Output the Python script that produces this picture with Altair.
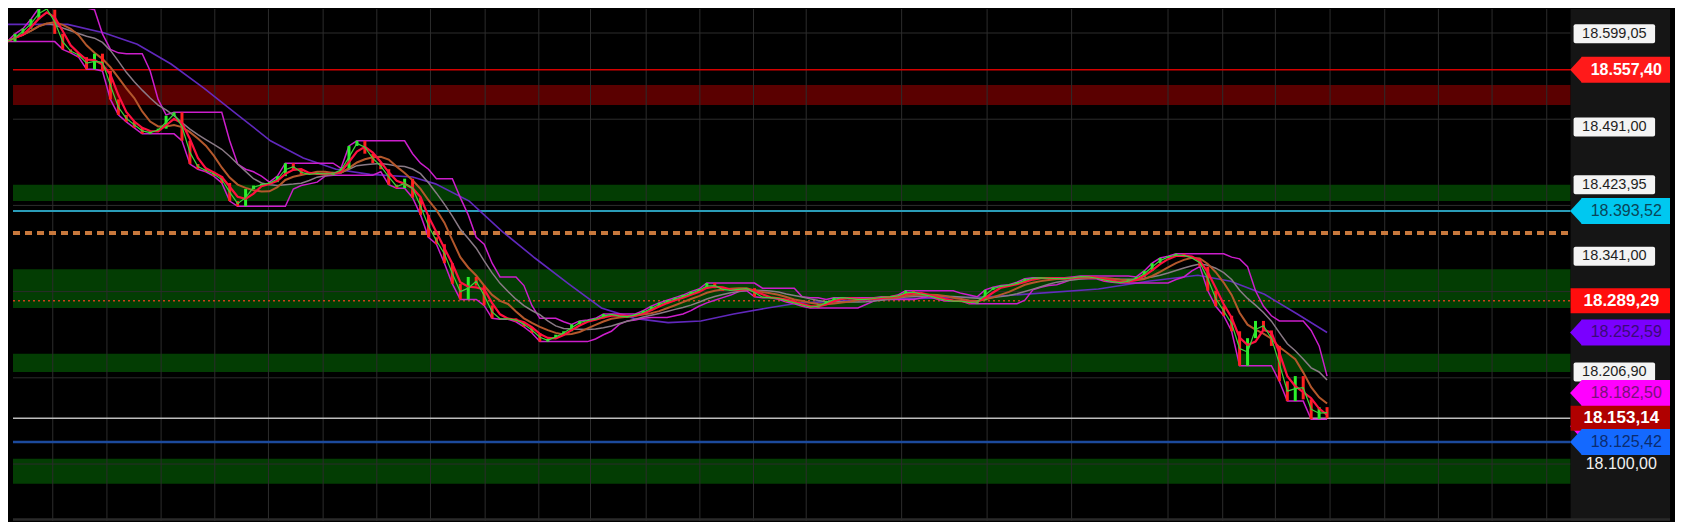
import altair as alt
import pandas as pd

# ---------------- data ----------------
closes = [
    18590, 18599, 18605, 18616, 18629, 18627, 18599, 18581, 18577, 18572,
    18558, 18576, 18556, 18523, 18505, 18497, 18490, 18483, 18486, 18489,
    18504, 18508, 18475, 18448, 18442, 18439, 18434, 18426, 18405, 18399,
    18419, 18423, 18425, 18427, 18434, 18449, 18441, 18436, 18436, 18438,
    18435, 18439, 18443, 18469, 18475, 18460, 18449, 18442, 18424, 18420,
    18431, 18409, 18389, 18363, 18355, 18333, 18309, 18291, 18317, 18307,
    18284, 18269, 18268, 18269, 18265, 18259, 18252, 18242, 18245, 18250,
    18254, 18262, 18266, 18267, 18269, 18274, 18273, 18270, 18272, 18274,
    18278, 18283, 18287, 18290, 18293, 18296, 18300, 18303, 18310, 18304,
    18301, 18302, 18303, 18304, 18294, 18293, 18293, 18291, 18288, 18286,
    18283, 18281, 18285, 18289, 18293, 18293, 18291, 18291, 18291, 18293,
    18294, 18294, 18296, 18301, 18298, 18296, 18294, 18291, 18289, 18289,
    18289, 18286, 18290, 18302, 18305, 18307, 18308, 18311, 18315, 18316,
    18316, 18315, 18315, 18315, 18317, 18318, 18316, 18315, 18312, 18311,
    18310, 18314, 18317, 18324, 18333, 18339, 18341, 18344, 18340, 18338,
    18329, 18301, 18283, 18272, 18254, 18214, 18246, 18266, 18255, 18237,
    18196, 18173, 18202, 18175, 18152, 18166, 18153.14,
]
bar_t = [2 + 8 * i for i in range(len(closes))]

long_ma_t = [0, 63, 100, 133, 167, 200, 233, 267, 300, 333, 367, 410, 433, 467,
             500, 533, 567, 600, 633, 667, 700, 733, 767, 800, 880, 990, 1100,
             1150, 1200, 1233, 1267, 1300, 1330]
long_ma_v = [18610, 18610, 18600, 18587, 18564, 18536, 18506, 18475, 18455, 18442,
             18436, 18433, 18425, 18405, 18370, 18339, 18309, 18281, 18269, 18264,
             18266, 18274, 18281, 18287, 18291, 18294, 18303, 18312, 18319, 18312,
             18297, 18274, 18252.59]

grid_x = [48, 102.5, 157, 211, 265, 320, 374, 428, 483, 537, 589, 645, 699, 753,
          806, 902, 988, 1073, 1170, 1225, 1278, 1333, 1388, 1442, 1496, 1551]
grid_y = [18600, 18500, 18400, 18300, 18200, 18100]

band_lo = [18516.5, 18405, 18281, 18206.9, 18077]
band_hi = [18539.7, 18424, 18326, 18228, 18106]
band_kind = ["resistance", "support", "support", "support", "support"]

level_v = [18557.40, 18393.52, 18368.0, 18289.29, 18153.14, 18125.42]
level_kind = ["red", "cyan", "orange", "dotted", "last", "blue"]

label_values = [18599.05, 18491.00, 18423.95, 18341.00, 18206.90,
                18557.40, 18393.52, 18289.29, 18252.59, 18182.50,
                18143.80, 18153.14, 18125.42, 18100.00]
label_texts = ["18.599,05", "18.491,00", "18.423,95", "18.341,00", "18.206,90",
               "18.557,40", "18.393,52", "18.289,29", "18.252,59", "18.182,50",
               "", "18.153,14", "18.125,42", "18.100,00"]
label_kinds = ["white", "white", "white", "white", "white",
               "arrow", "arrow", "flat", "arrow", "arrow",
               "arrow", "flat", "arrow", "plain"]

# ---------------- styles ----------------
BAND_COLOR = {"resistance": "#5a0000", "support": "#033d03"}
LEVEL_STYLE = {
    "red": ("#d40000", 1.5, None),
    "cyan": ("#2a9cb8", 2.0, None),
    "orange": ("#c8783c", 4.0, [7, 5]),
    "dotted": ("#d0401a", 1.5, [2, 3]),
    "last": ("#bdbdbd", 1.5, None),
    "blue": ("#1c4a9c", 2.5, None),
}
# fill, text colour, bold (one entry per label, same order)
LABEL_FILL = ["#f4f4f4"] * 5 + ["#ff1a1a", "#00c8f0", "#ff0d0d", "#7a00ff", "#ff00ff",
                                "#ff00ff", "#b00000", "#1469ff", None]
LABEL_TCOL = ["#1e1e1e"] * 5 + ["#ffffff", "#0a4558", "#ffffff", "#3a0a78", "#7a107a",
                                "#7a107a", "#ffffff", "#0b2c70", "#f0f0f0"]
LABEL_BOLD = [False] * 5 + [True, False, True, False, False, False, True, False, False]

FONT = "Liberation Sans"
W, H = 1667, 512
X0, XR, XE = 8, 1575, 1675
Y_DOM = [18033.92, 18627.84]
PX = (Y_DOM[1] - Y_DOM[0]) / H

xs = alt.Scale(domain=[X0, XE], nice=False, zero=False)
ys = alt.Scale(domain=Y_DOM, nice=False, zero=False)


def X(f):
    return alt.X(f, type="quantitative", scale=xs, axis=None)


def Y(f):
    return alt.Y(f, type="quantitative", scale=ys, axis=None)


layers = []

# bands
bands = pd.DataFrame({"lo": band_lo, "hi": band_hi,
                      "c": [BAND_COLOR[k] for k in band_kind]})
layers.append(
    alt.Chart(bands).transform_calculate(x0=str(X0), x1=str(XR))
    .mark_rect().encode(x=X("x0"), x2="x1", y=Y("lo"), y2="hi",
                        color=alt.Color("c:N", scale=None))
)

# grid
layers.append(
    alt.Chart(pd.DataFrame({"x": grid_x})).mark_rule(color="#2c2c2c", strokeWidth=1)
    .encode(x=X("x"))
)
layers.append(
    alt.Chart(pd.DataFrame({"y": grid_y})).transform_calculate(x0=str(X0), x1=str(XR))
    .mark_rule(color="#2c2c2c", strokeWidth=1)
    .encode(x=X("x0"), x2="x1", y=Y("y"))
)

# level lines
for v, k in zip(level_v, level_kind):
    col, sw, dash = LEVEL_STYLE[k]
    props = dict(color=col, strokeWidth=sw)
    if dash:
        props["strokeDash"] = dash
    layers.append(
        alt.Chart(pd.DataFrame({"y": [v]})).transform_calculate(x0=str(X0), x1=str(XR))
        .mark_rule(**props).encode(x=X("x0"), x2="x1", y=Y("y"))
    )

# price
price = pd.DataFrame({"t": bar_t, "close": closes})
srt = [alt.SortField(field="t", order="ascending")]
pbase = alt.Chart(price)

# long moving average
layers.append(
    alt.Chart(pd.DataFrame({"t": long_ma_t, "v": long_ma_v}))
    .mark_line(color="#6a2cd0", strokeWidth=1.6, opacity=0.9, clip=True)
    .encode(x=X("t"), y=Y("v"))
)

# channel (rolling high/low)
chan = pbase.transform_window(hi="max(close)", lo="min(close)", frame=[-6, 0], sort=srt)
layers.append(chan.mark_line(color="#cc1ecc", strokeWidth=1.5, clip=True).encode(x=X("t"), y=Y("hi")))
layers.append(chan.mark_line(color="#cc1ecc", strokeWidth=1.5, clip=True).encode(x=X("t"), y=Y("lo")))

# slower averages
layers.append(
    pbase.transform_window(m9="mean(close)", frame=[-9, 0], sort=srt)
    .mark_line(color="#8a7a86", strokeWidth=1.5, clip=True).encode(x=X("t"), y=Y("m9"))
)
layers.append(
    pbase.transform_window(m5="mean(close)", frame=[-5, 0], sort=srt)
    .mark_line(color="#b4582c", strokeWidth=2, clip=True).encode(x=X("t"), y=Y("m5"))
)

# candles
cand = pbase.transform_window(
    window=[alt.WindowFieldDef(op="lag", field="close", param=1, **{"as": "prev"})],
    sort=srt,
).transform_calculate(open="isValid(datum.prev) ? datum.prev : datum.close")
layers.append(
    cand.mark_bar(size=3, clip=True).encode(
        x=X("t"), y=Y("open"), y2="close",
        color=alt.condition("datum.close >= datum.open", alt.value("#2af02a"), alt.value("#ff2020")),
    )
)

# fast averages
layers.append(
    pbase.transform_window(m3="mean(close)", frame=[-2, 0], sort=srt)
    .mark_line(color="#ff1040", strokeWidth=2.2, clip=True).encode(x=X("t"), y=Y("m3"))
)
layers.append(
    pbase.transform_window(m2="mean(close)", frame=[-1, 0], sort=srt)
    .mark_line(color="#3ad63a", strokeWidth=1.2, clip=True).encode(x=X("t"), y=Y("m2"))
)

# right price panel
layers.append(
    alt.Chart(pd.DataFrame({"a": [0]})).transform_calculate(
        x0=str(XR), x1=str(XE), y0=str(Y_DOM[0]), y1=str(Y_DOM[1]))
    .mark_rect(color="#151515").encode(x=X("x0"), x2="x1", y=Y("y0"), y2="y1")
)
# bottom separator
layers.append(
    alt.Chart(pd.DataFrame({"y": [Y_DOM[0] + 1.5 * PX]})).transform_calculate(x0=str(X0), x1=str(XE))
    .mark_rule(color="#2a2a2a", strokeWidth=2.5).encode(x=X("x0"), x2="x1", y=Y("y"))
)

# labels
for i, (v, txt, kind) in enumerate(zip(label_values, label_texts, label_kinds)):
    fill, tcol, bold = LABEL_FILL[i], LABEL_TCOL[i], LABEL_BOLD[i]
    b = alt.Chart(pd.DataFrame({"v": [v], "t": [txt]}))
    if kind == "white":
        hh, x0, x1, xc, fs = 9.5, 1578, 1660, 1619, 14.5
    elif kind == "arrow":
        hh, x0, x1, xc, fs = 13, 1586, XE, 1631, 16
    elif kind == "flat":
        hh, x0, x1, xc, fs = 12.5, XR, XE, 1626, 17
    else:
        hh, x0, x1, xc, fs = 0, 0, 0, 1626, 16
    if kind != "plain":
        layers.append(
            b.transform_calculate(y0=f"datum.v - {hh * PX}", y1=f"datum.v + {hh * PX}",
                                  x0=str(x0), x1=str(x1))
            .mark_rect(color=fill, cornerRadius=2 if kind == "white" else 0)
            .encode(x=X("x0"), x2="x1", y=Y("y0"), y2="y1")
        )
    if kind == "arrow":
        layers.append(
            b.transform_calculate(xt=str(x0 + 0.5))
            .mark_point(shape="M 0 -1 L -0.92 0 L 0 1 Z", size=(2 * hh) ** 2, filled=True,
                        color=fill, opacity=1, strokeWidth=0)
            .encode(x=X("xt"), y=Y("v"))
        )
    if txt:
        layers.append(
            b.transform_calculate(xc=str(xc))
            .mark_text(align="center", baseline="middle", font=FONT, fontSize=fs,
                       fontWeight="bold" if bold else "normal", color=tcol)
            .encode(x=X("xc"), y=Y("v"), text="t:N")
        )

chart = (
    alt.layer(*layers)
    .properties(width=W, height=H, padding=0, background="#000000")
    .configure_view(stroke=None, fill="#000000")
)

chart.save("out.html", embed_options={"renderer": "svg", "actions": False})
